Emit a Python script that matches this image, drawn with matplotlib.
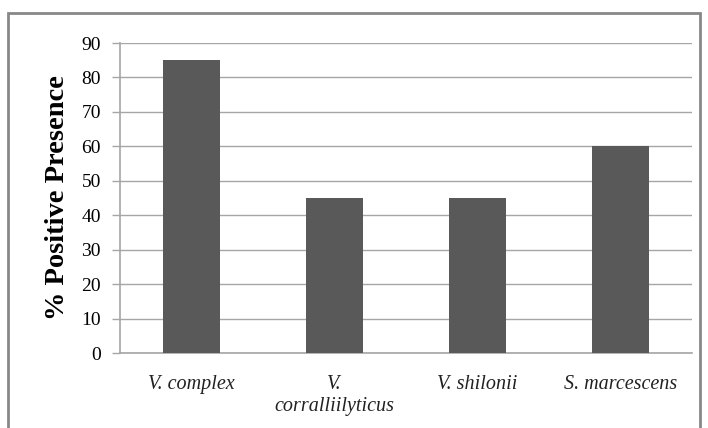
from matplotlib import pyplot as plt
from matplotlib.patches import Rectangle

categories = ["V. complex", "V.\ncorralliilyticus", "V. shilonii", "S. marcescens"]
values = [85, 45, 45, 60]
yticks = list(range(0, 91, 10))

plt.rcParams['font.family'] = ['Liberation Serif', 'DejaVu Serif']

fig = plt.figure(figsize=(7.08, 4.28), dpi=100)
ax = fig.add_axes([120/708, 75/428, 572/708, 310/428])

ax.bar(range(len(values)), values, width=0.405, color='#595959', zorder=3)
ax.set_xlim(-0.5, len(values) - 0.5)
ax.set_ylim(0, 90)
ax.set_yticks(yticks)
ax.yaxis.grid(True, color='#a6a6a6', linewidth=1, zorder=0)
ax.set_xticks(range(len(values)))
ax.set_xticklabels(categories, fontstyle='italic', fontsize=14.5, color='#222222', linespacing=1.2)
ax.tick_params(axis='x', length=0, pad=16)
ax.tick_params(axis='y', length=5.8, width=1, color='#a6a6a6', labelsize=14, pad=8)
for s in ['top', 'right']:
    ax.spines[s].set_visible(False)
for s in ['left', 'bottom']:
    ax.spines[s].set_color('#a6a6a6')
    ax.spines[s].set_linewidth(1.2)
ax.set_ylabel("% Positive Presence", fontsize=20.5, fontweight='bold', labelpad=8)

# outer frame
fig.patches.append(Rectangle((8/708, -0.1), 692/708, (428 - 13)/428 + 0.1,
                             transform=fig.transFigure, fill=False,
                             edgecolor='#888888', linewidth=2))

plt.savefig("out.png")
